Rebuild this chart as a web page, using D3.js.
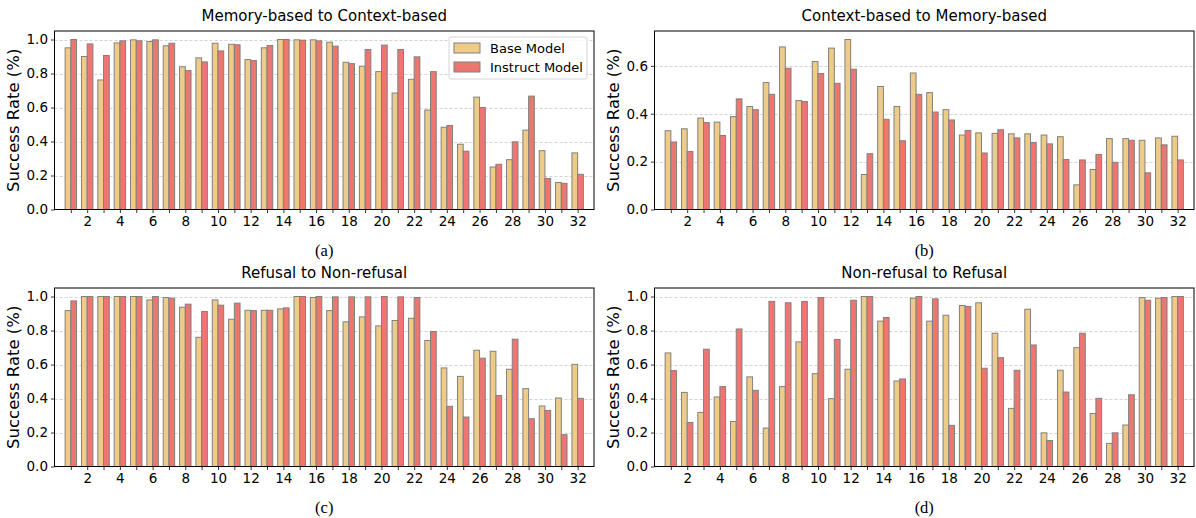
<!DOCTYPE html>
<html>
<head>
<meta charset="utf-8">
<script src="https://cdn.jsdelivr.net/npm/d3@7"></script>
<style>
  body { margin: 0; background: #fff; }
  svg { display: block; }
</style>
</head>
<body>
<script>
var W = 1196, H = 518;

// layers 1..32
var layers = d3.range(1, 33);
var seriesNames = ["Base Model", "Instruct Model"];

var baseA = [0.951, 0.90, 0.762, 0.98, 0.998, 0.988, 0.963, 0.84, 0.892, 0.978, 0.972, 0.882, 0.951, 1.0, 0.998, 0.998,
  0.984, 0.866, 0.843, 0.811, 0.685, 0.766, 0.585, 0.484, 0.384, 0.661, 0.25, 0.293, 0.467, 0.346, 0.159, 0.333];
var instructA = [1.0, 0.974, 0.906, 0.992, 0.992, 0.998, 0.978, 0.817, 0.868, 0.933, 0.969, 0.876, 0.965, 1.0, 0.996, 0.992,
  0.961, 0.858, 0.941, 0.967, 0.941, 0.898, 0.811, 0.494, 0.343, 0.600, 0.266, 0.398, 0.667, 0.183, 0.154, 0.207];

var baseB = [0.329, 0.337, 0.382, 0.365, 0.388, 0.43, 0.530, 0.679, 0.455, 0.618, 0.674, 0.710, 0.146, 0.514, 0.430, 0.570,
  0.488, 0.417, 0.311, 0.320, 0.318, 0.316, 0.316, 0.311, 0.304, 0.103, 0.167, 0.296, 0.296, 0.289, 0.299, 0.306];
var instructB = [0.282, 0.242, 0.363, 0.309, 0.462, 0.417, 0.481, 0.590, 0.451, 0.568, 0.527, 0.586, 0.233, 0.377, 0.287, 0.481,
  0.407, 0.374, 0.330, 0.236, 0.333, 0.299, 0.280, 0.274, 0.209, 0.207, 0.230, 0.197, 0.289, 0.153, 0.270, 0.207];

var baseC = [0.917, 1.0, 1.0, 1.0, 1.0, 0.980, 0.994, 0.937, 0.760, 0.980, 0.866, 0.919, 0.919, 0.927, 1.0, 0.994,
  0.917, 0.851, 0.880, 0.827, 0.859, 0.872, 0.741, 0.580, 0.530, 0.684, 0.678, 0.572, 0.458, 0.356, 0.403, 0.601];
var instructC = [0.974, 1.0, 1.0, 1.0, 1.0, 1.0, 0.990, 0.955, 0.912, 0.949, 0.961, 0.917, 0.919, 0.933, 1.0, 1.0,
  0.998, 0.998, 0.998, 1.0, 0.998, 0.994, 0.794, 0.354, 0.291, 0.637, 0.417, 0.749, 0.281, 0.330, 0.187, 0.401];

var baseD = [0.668, 0.436, 0.318, 0.409, 0.265, 0.527, 0.226, 0.470, 0.733, 0.546, 0.399, 0.572, 1.0, 0.855, 0.503, 0.990,
  0.855, 0.890, 0.947, 0.963, 0.784, 0.342, 0.925, 0.198, 0.566, 0.699, 0.312, 0.136, 0.244, 0.994, 0.990, 1.0];
var instructD = [0.564, 0.259, 0.690, 0.470, 0.809, 0.448, 0.971, 0.963, 0.971, 0.994, 0.747, 0.978, 1.0, 0.876, 0.515, 1.0,
  0.986, 0.242, 0.941, 0.578, 0.640, 0.566, 0.715, 0.153, 0.438, 0.784, 0.401, 0.198, 0.422, 0.978, 0.994, 1.0];

var titles = ["Memory-based to Context-based", "Context-based to Memory-based", "Refusal to Non-refusal", "Non-refusal to Refusal"];
var captions = ["(a)", "(b)", "(c)", "(d)"];
var yTicksFull = [0, 0.2, 0.4, 0.6, 0.8, 1.0];
var yTicksB = [0, 0.2, 0.4, 0.6];

var colors = ["#EFCB88", "#EF7571"];
var edge = "#808080";

var panels = [
  { base: baseA, instr: instructA, ticks: yTicksFull, left: 54.5, top: 31, legend: true },
  { base: baseB, instr: instructB, ticks: yTicksB, left: 654.5, top: 31, legend: false },
  { base: baseC, instr: instructC, ticks: yTicksFull, left: 54.5, top: 288, legend: false },
  { base: baseD, instr: instructD, ticks: yTicksFull, left: 654.5, top: 288, legend: false }
];
var pw = 539.5, ph = 178.5;
var barW = 0.35;

var svg = d3.select("body").append("svg").attr("width", W).attr("height", H)
  .style("font-family", "'DejaVu Sans', sans-serif");

panels.forEach(function (p, k) {
  var g = svg.append("g").attr("transform", "translate(" + p.left + "," + p.top + ")");
  var maxV = d3.max(p.base.concat(p.instr));
  var x = d3.scaleLinear().domain([0, 33]).range([0, pw]);
  var y = d3.scaleLinear().domain([0, maxV * 1.05]).range([ph, 0]);

  // grid
  g.selectAll(".grid").data(p.ticks.filter(function (t) { return t > 0; })).enter()
    .append("line")
    .attr("x1", 0).attr("x2", pw)
    .attr("y1", function (d) { return Math.round(y(d)) + 0.5; })
    .attr("y2", function (d) { return Math.round(y(d)) + 0.5; })
    .attr("stroke", "#c8c8c8").attr("stroke-width", 0.8)
    .attr("stroke-dasharray", "3,2");

  // bars
  var groups = [p.base, p.instr];
  groups.forEach(function (vals, s) {
    g.selectAll(".bar" + s).data(vals).enter()
      .append("rect")
      .attr("x", function (d, i) { return x(layers[i] - barW + s * barW); })
      .attr("y", function (d) { return y(d); })
      .attr("width", x(barW) - x(0))
      .attr("height", function (d) { return ph - y(d); })
      .attr("fill", colors[s])
      .attr("stroke", edge).attr("stroke-width", 1);
  });

  // axes
  var xAxis = d3.axisBottom(x).tickValues(layers)
    .tickFormat(function (d) { return d % 2 === 0 ? d : ""; })
    .tickSize(3.5).tickPadding(3);
  var gx = g.append("g").attr("transform", "translate(0," + ph + ")").call(xAxis);
  var yAxis = d3.axisLeft(y).tickValues(p.ticks).tickFormat(d3.format(".1f"))
    .tickSize(3.5).tickPadding(3);
  var gy = g.append("g").call(yAxis);
  [gx, gy].forEach(function (a) {
    a.select(".domain").remove();
    a.selectAll("text").attr("font-size", "13.5px").attr("fill", "#000")
      .attr("font-family", "'DejaVu Sans', sans-serif");
    a.selectAll("line").attr("stroke", "#000").attr("stroke-width", 0.8);
  });

  // frame
  g.append("rect").attr("x", 0).attr("y", 0).attr("width", pw).attr("height", ph)
    .attr("fill", "none").attr("stroke", "#000").attr("stroke-width", 1);

  // title
  g.append("text").attr("x", pw / 2).attr("y", -10)
    .attr("text-anchor", "middle").attr("font-size", "15px").attr("fill", "#000")
    .text(titles[k]);

  // y label
  g.append("text")
    .attr("transform", "translate(" + (-36) + "," + (ph / 2) + ") rotate(-90)")
    .attr("text-anchor", "middle").attr("font-size", "16.5px").attr("fill", "#000")
    .text("Success Rate (%)");

  // caption
  g.append("text").attr("x", pw / 2).attr("y", ph + 46)
    .attr("text-anchor", "middle").attr("font-size", "16.5px")
    .attr("font-family", "'Liberation Serif', 'Times New Roman', serif").attr("fill", "#000")
    .text(captions[k]);

  if (p.legend) {
    var lg = g.append("g").attr("transform", "translate(" + (pw - 145) + ",6)");
    lg.append("rect").attr("x", 0).attr("y", 0).attr("width", 138).attr("height", 42)
      .attr("rx", 2).attr("fill", "#fff").attr("fill-opacity", 0.8)
      .attr("stroke", "#d6d6d6").attr("stroke-width", 1);
    seriesNames.forEach(function (name, s) {
      lg.append("rect").attr("x", 5).attr("y", 6 + s * 19).attr("width", 26).attr("height", 10)
        .attr("fill", colors[s]).attr("stroke", edge).attr("stroke-width", 1);
      lg.append("text").attr("x", 41).attr("y", 16 + s * 19)
        .attr("font-size", "13px").attr("fill", "#000").text(name);
    });
  }
});
</script>
</body>
</html>
